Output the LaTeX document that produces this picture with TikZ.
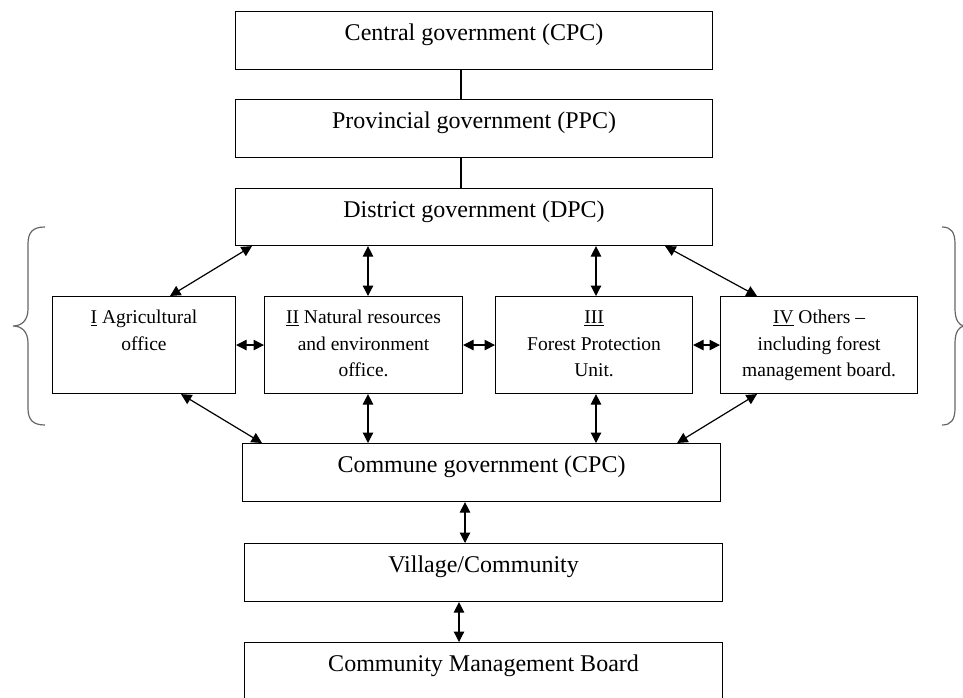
\documentclass[tikz,border=0pt]{standalone}
\usepackage{fontspec}
\setmainfont{Liberation Serif}
\usetikzlibrary{arrows.meta}
\begin{document}
\begin{tikzpicture}[x=1pt,y=-1pt,
  box/.style={draw, line width=1.1pt, inner sep=0pt, anchor=north west},
  topbox/.style={box, minimum width=477pt, text height=29pt, text depth=29pt, font=\fontsize{24}{29}\selectfont},
  midbox/.style={box, text height=27pt, text depth=70pt, font=\fontsize{19.5}{26.5}\selectfont},
  link/.style={line width=1.1pt},
  arr/.style={line width=1.2pt, {Triangle[length=10.5pt,width=10.5pt]}-{Triangle[length=10.5pt,width=10.5pt]}},
  bracestyle/.style={line width=1.2pt, draw=black!60}]
\useasboundingbox (0,0) rectangle (963,698);
\clip (0,0) rectangle (963,698);
% top chain
\node[topbox] (cpc) at (235,11) {Central government (CPC)};
\node[topbox] (ppc) at (235,99) {Provincial government (PPC)};
\node[topbox, text depth=28pt] (dpc) at (235,188) {District government (DPC)};
% middle row
\node[midbox, minimum width=183pt] (agr) at (52,296) {\parbox[t]{177pt}{\centering\underline{I} Agricultural\\office}};
\node[midbox, minimum width=198pt] (nat) at (264,296) {\parbox[t]{192pt}{\centering\underline{II} Natural resources\\and environment\\office.}};
\node[midbox, minimum width=197pt] (fpu) at (495,296) {\parbox[t]{191pt}{\centering\underline{III}\\Forest Protection\\Unit.}};
\node[midbox, minimum width=197pt] (oth) at (720,296) {\parbox[t]{191pt}{\centering\underline{IV} Others --\\including forest\\management board.}};
% bottom chain
\node[topbox, minimum width=478pt] (com) at (242,443) {Commune government (CPC)};
\node[topbox, minimum width=478pt] (vil) at (244,543) {Village/Community};
\node[topbox, minimum width=478pt, text depth=42pt] (cmb) at (244,642) {Community Management Board};
% plain links
\draw[link] ([xshift=226pt]cpc.south west) -- ([xshift=226pt]ppc.north west);
\draw[link] ([xshift=226pt]ppc.south west) -- ([xshift=226pt]dpc.north west);
% district to offices
\draw[arr] ([xshift=17pt]dpc.south west) -- ([xshift=118pt]agr.north west);
\draw[arr] ([xshift=133pt]dpc.south west) -- ([xshift=104pt]nat.north west);
\draw[arr] ([xshift=361pt]dpc.south west) -- ([xshift=101pt]fpu.north west);
\draw[arr] ([xshift=-48pt]dpc.south east) -- ([xshift=37pt]oth.north west);
% between offices
\draw[arr] (agr.east) -- (nat.west);
\draw[arr] (nat.east) -- (fpu.west);
\draw[arr] (fpu.east) -- (oth.west);
% offices to commune
\draw[arr] ([xshift=129pt]agr.south west) -- ([xshift=20pt]com.north west);
\draw[arr] ([xshift=104pt]nat.south west) -- ([xshift=126pt]com.north west);
\draw[arr] ([xshift=101pt]fpu.south west) -- ([xshift=354pt]com.north west);
\draw[arr] ([xshift=37pt]oth.south west) -- ([xshift=-44pt]com.north east);
% lower chain
\draw[arr] ([xshift=223pt]com.south west) -- ([xshift=221pt]vil.north west);
\draw[arr] ([xshift=215pt]vil.south west) -- ([xshift=215pt]cmb.north west);
% braces
\draw[bracestyle] (45,227) .. controls (33,227) and (28,232) .. (28,244) -- (28,309)
  .. controls (28,320) and (22,326) .. (13,326) .. controls (22,326) and (28,332) .. (28,343)
  -- (28,408) .. controls (28,420) and (33,425) .. (45,425);
\draw[bracestyle] (942,227) .. controls (951,227) and (955,232) .. (955,244) -- (955,309)
  .. controls (955,320) and (959,326) .. (965,326) .. controls (959,326) and (955,332) .. (955,343)
  -- (955,408) .. controls (955,420) and (951,425) .. (942,425);
\end{tikzpicture}
\end{document}
